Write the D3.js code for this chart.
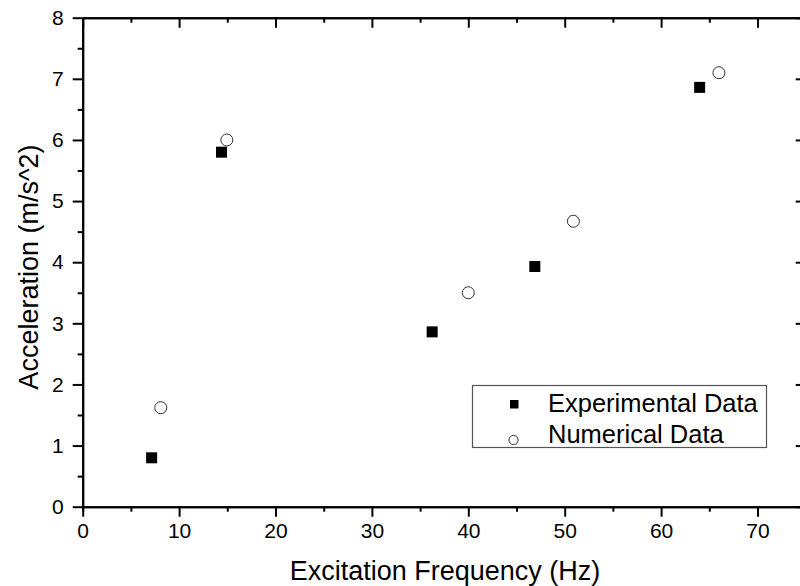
<!DOCTYPE html>
<html><head><meta charset="utf-8">
<script src="https://cdn.jsdelivr.net/npm/d3@7"></script>
<style>
html,body{margin:0;padding:0;background:#fff;overflow:hidden}
svg{display:block;font-family:"Liberation Sans",Arial,sans-serif}
</style></head>
<body>
<svg id="chart" width="800" height="586"></svg>
<script>
const expX = [7.15, 14.4, 36.25, 46.9, 64.0];
const expY = [0.80, 5.80, 2.86, 3.93, 6.86];
const numX = [8.1, 14.95, 40.0, 50.9, 66.0];
const numY = [1.62, 6.00, 3.50, 4.67, 7.10];
const xTicks = [0, 10, 20, 30, 40, 50, 60, 70];
const yTicks = [0, 1, 2, 3, 4, 5, 6, 7, 8];
const xTitle = "Excitation Frequency (Hz)";
const yTitle = "Acceleration (m/s^2)";
const legendLabels = ["Experimental Data", "Numerical Data"];

const svg = d3.select("#chart");
const x = d3.scaleLinear().domain([0, 75]).range([82.7, 805.7]);
const y = d3.scaleLinear().domain([0, 8]).range([506.7, 17.7]);

const xMinor = d3.range(5, 75, 10);
const yMinor = d3.range(0.5, 8, 1);

function styleAxis(g){
  g.select(".domain").attr("stroke","#000").attr("stroke-width",2);
  g.selectAll(".tick line").attr("stroke","#000").attr("stroke-width",2);
  g.selectAll(".tick text").attr("font-size","21px").attr("fill","#000")
   .attr("font-family",'"Liberation Sans",Arial,sans-serif');
}

// bottom minor
svg.append("g").attr("transform",`translate(0,${y(0)})`)
  .call(d3.axisBottom(x).tickValues(xMinor).tickSize(5).tickFormat(""))
  .call(styleAxis);
// bottom major
svg.append("g").attr("transform",`translate(0,${y(0)})`)
  .call(d3.axisBottom(x).tickValues(xTicks).tickSize(10).tickPadding(6).tickSizeOuter(0))
  .call(styleAxis);
// top
svg.append("g").attr("transform",`translate(0,${y(8)})`)
  .call(d3.axisTop(x).tickValues(xMinor).tickSize(-5).tickFormat("").tickSizeOuter(0))
  .call(styleAxis);
svg.append("g").attr("transform",`translate(0,${y(8)})`)
  .call(d3.axisTop(x).tickValues(xTicks).tickSize(-10).tickFormat("").tickSizeOuter(0))
  .call(styleAxis);
// left
svg.append("g").attr("transform",`translate(${x(0)},0)`)
  .call(d3.axisLeft(y).tickValues(yMinor).tickSize(5).tickFormat("").tickSizeOuter(0))
  .call(styleAxis);
svg.append("g").attr("transform",`translate(${x(0)},0)`)
  .call(d3.axisLeft(y).tickValues(yTicks).tickSize(10).tickPadding(9).tickSizeOuter(0))
  .call(styleAxis);
// right
svg.append("g").attr("transform",`translate(${x(75)},0)`)
  .call(d3.axisRight(y).tickValues(yMinor).tickSize(-5).tickFormat("").tickSizeOuter(0))
  .call(styleAxis);
svg.append("g").attr("transform",`translate(${x(75)},0)`)
  .call(d3.axisRight(y).tickValues(yTicks).tickSize(-10).tickFormat("").tickSizeOuter(0))
  .call(styleAxis);

// axis titles
svg.append("text").attr("x", 445).attr("y", 580).attr("text-anchor","middle")
  .attr("font-size","27px").attr("fill","#000").text(xTitle);
svg.append("text").attr("transform","translate(38,267) rotate(-90)").attr("text-anchor","middle")
  .attr("font-size","27px").attr("fill","#000").text(yTitle);

// data
const sq = 11;
svg.append("g").selectAll("rect").data(expX).join("rect")
  .attr("x",(d)=>x(d)-sq/2).attr("y",(d,i)=>y(expY[i])-sq/2)
  .attr("width",sq).attr("height",sq).attr("fill","#000");
svg.append("g").selectAll("circle").data(numX).join("circle")
  .attr("cx",(d)=>x(d)).attr("cy",(d,i)=>y(numY[i])).attr("r",6)
  .attr("fill","#fff").attr("stroke","#333").attr("stroke-width",1);

// legend
const lg = svg.append("g");
lg.append("rect").attr("x",472.5).attr("y",385.5).attr("width",294).attr("height",62)
  .attr("fill","#fff").attr("stroke","#555").attr("stroke-width",1.2);
lg.append("rect").attr("x",510).attr("y",400).attr("width",8.5).attr("height",8.5).attr("fill","#000");
lg.append("circle").attr("cx",513.5).attr("cy",440).attr("r",4.6).attr("fill","#fff").attr("stroke","#333");
lg.selectAll("text.l").data(legendLabels).join("text").attr("class","l")
  .attr("x",548).attr("y",(d,i)=>412 + i*31).attr("font-size","25.5px").attr("fill","#000").text(d=>d);
</script>
</body></html>
